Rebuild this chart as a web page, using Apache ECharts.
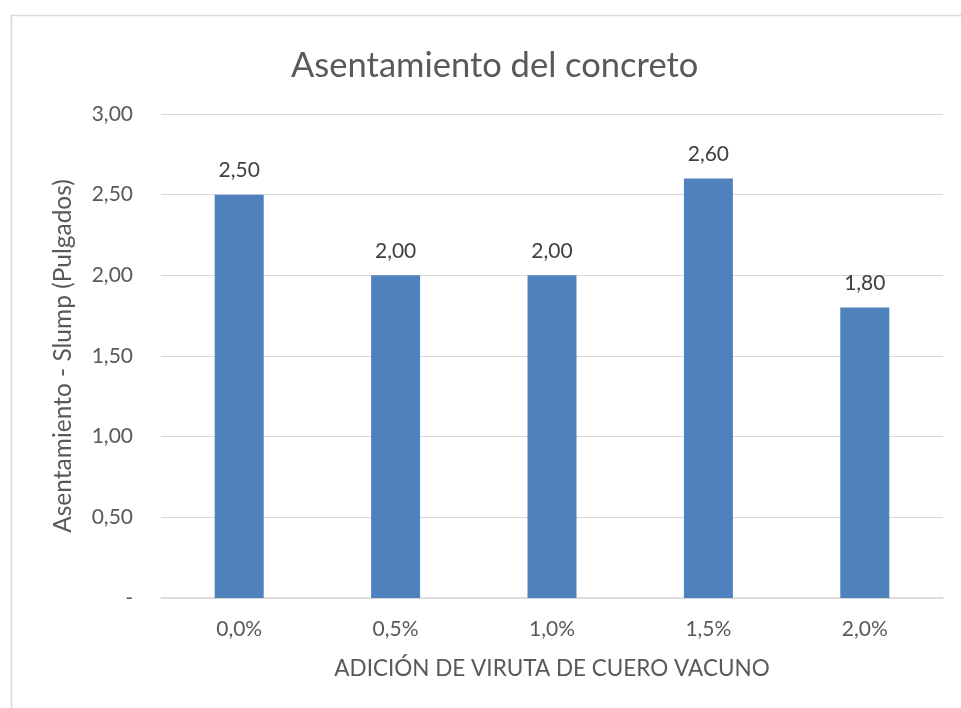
<!DOCTYPE html>
<html>
<head>
<meta charset="utf-8">
<script src="https://cdn.jsdelivr.net/npm/echarts@6/dist/echarts.min.js"></script>
<style>
  html, body { margin: 0; padding: 0; background: #fff; }
  #chart { width: 961px; height: 708px; }
</style>
</head>
<body>
<div id="chart"></div>
<script>
const categories = ['0,0%', '0,5%', '1,0%', '1,5%', '2,0%'];
const slumpValues = [2.5, 2.0, 2.0, 2.6, 1.8];

const chart = echarts.init(document.getElementById('chart'));
const textColor = '#595959';
const font = 'Lato, "Open Sans", sans-serif';

// 2,50 style: comma decimal, zero shown as a dash
const fmt = v => v === 0 ? '-' : v.toFixed(2).replace('.', ',');

const option = {
  backgroundColor: '#fff',
  textStyle: { fontFamily: font, color: textColor },
  graphic: [{
    type: 'rect',
    shape: { x: 11.5, y: 15.5, width: 960, height: 720 },
    style: { fill: 'none', stroke: '#d9d9d9', lineWidth: 1.5 },
    silent: true
  }],
  title: {
    text: 'Asentamiento del concreto',
    left: 286,
    top: 43,
    textStyle: { fontFamily: font, fontSize: 34.5, fontWeight: 'normal', color: textColor }
  },
  grid: { left: 161, right: 18, top: 114, bottom: 110 },
  xAxis: {
    type: 'category',
    data: categories,
    axisLine: { lineStyle: { color: '#d9d9d9', width: 1.5 } },
    axisTick: { show: false },
    axisLabel: { color: textColor, fontSize: 21, margin: 21, fontFamily: font },
    name: 'ADICIÓN DE VIRUTA DE CUERO VACUNO',
    nameLocation: 'center',
    nameGap: 59,
    nameTextStyle: { color: textColor, fontSize: 22.5, fontFamily: font }
  },
  yAxis: {
    type: 'value',
    min: 0,
    max: 3,
    interval: 0.5,
    axisLine: { show: false },
    axisTick: { show: false },
    splitLine: { lineStyle: { color: '#d9d9d9', width: 1.2 } },
    axisLabel: { color: textColor, fontSize: 21, margin: 28, fontFamily: font, formatter: fmt },
    name: 'Asentamiento - Slump (Pulgados)',
    nameLocation: 'center',
    nameGap: 85,
    nameTextStyle: { color: textColor, fontSize: 24.5, fontFamily: font }
  },
  series: [{
    type: 'bar',
    data: slumpValues,
    barWidth: 49,
    itemStyle: { color: '#4f81bd' },
    label: {
      show: true,
      position: 'top',
      distance: 14,
      color: '#404040',
      fontSize: 21,
      fontFamily: font,
      formatter: p => fmt(p.value)
    }
  }]
};

chart.setOption(option);
</script>
</body>
</html>
